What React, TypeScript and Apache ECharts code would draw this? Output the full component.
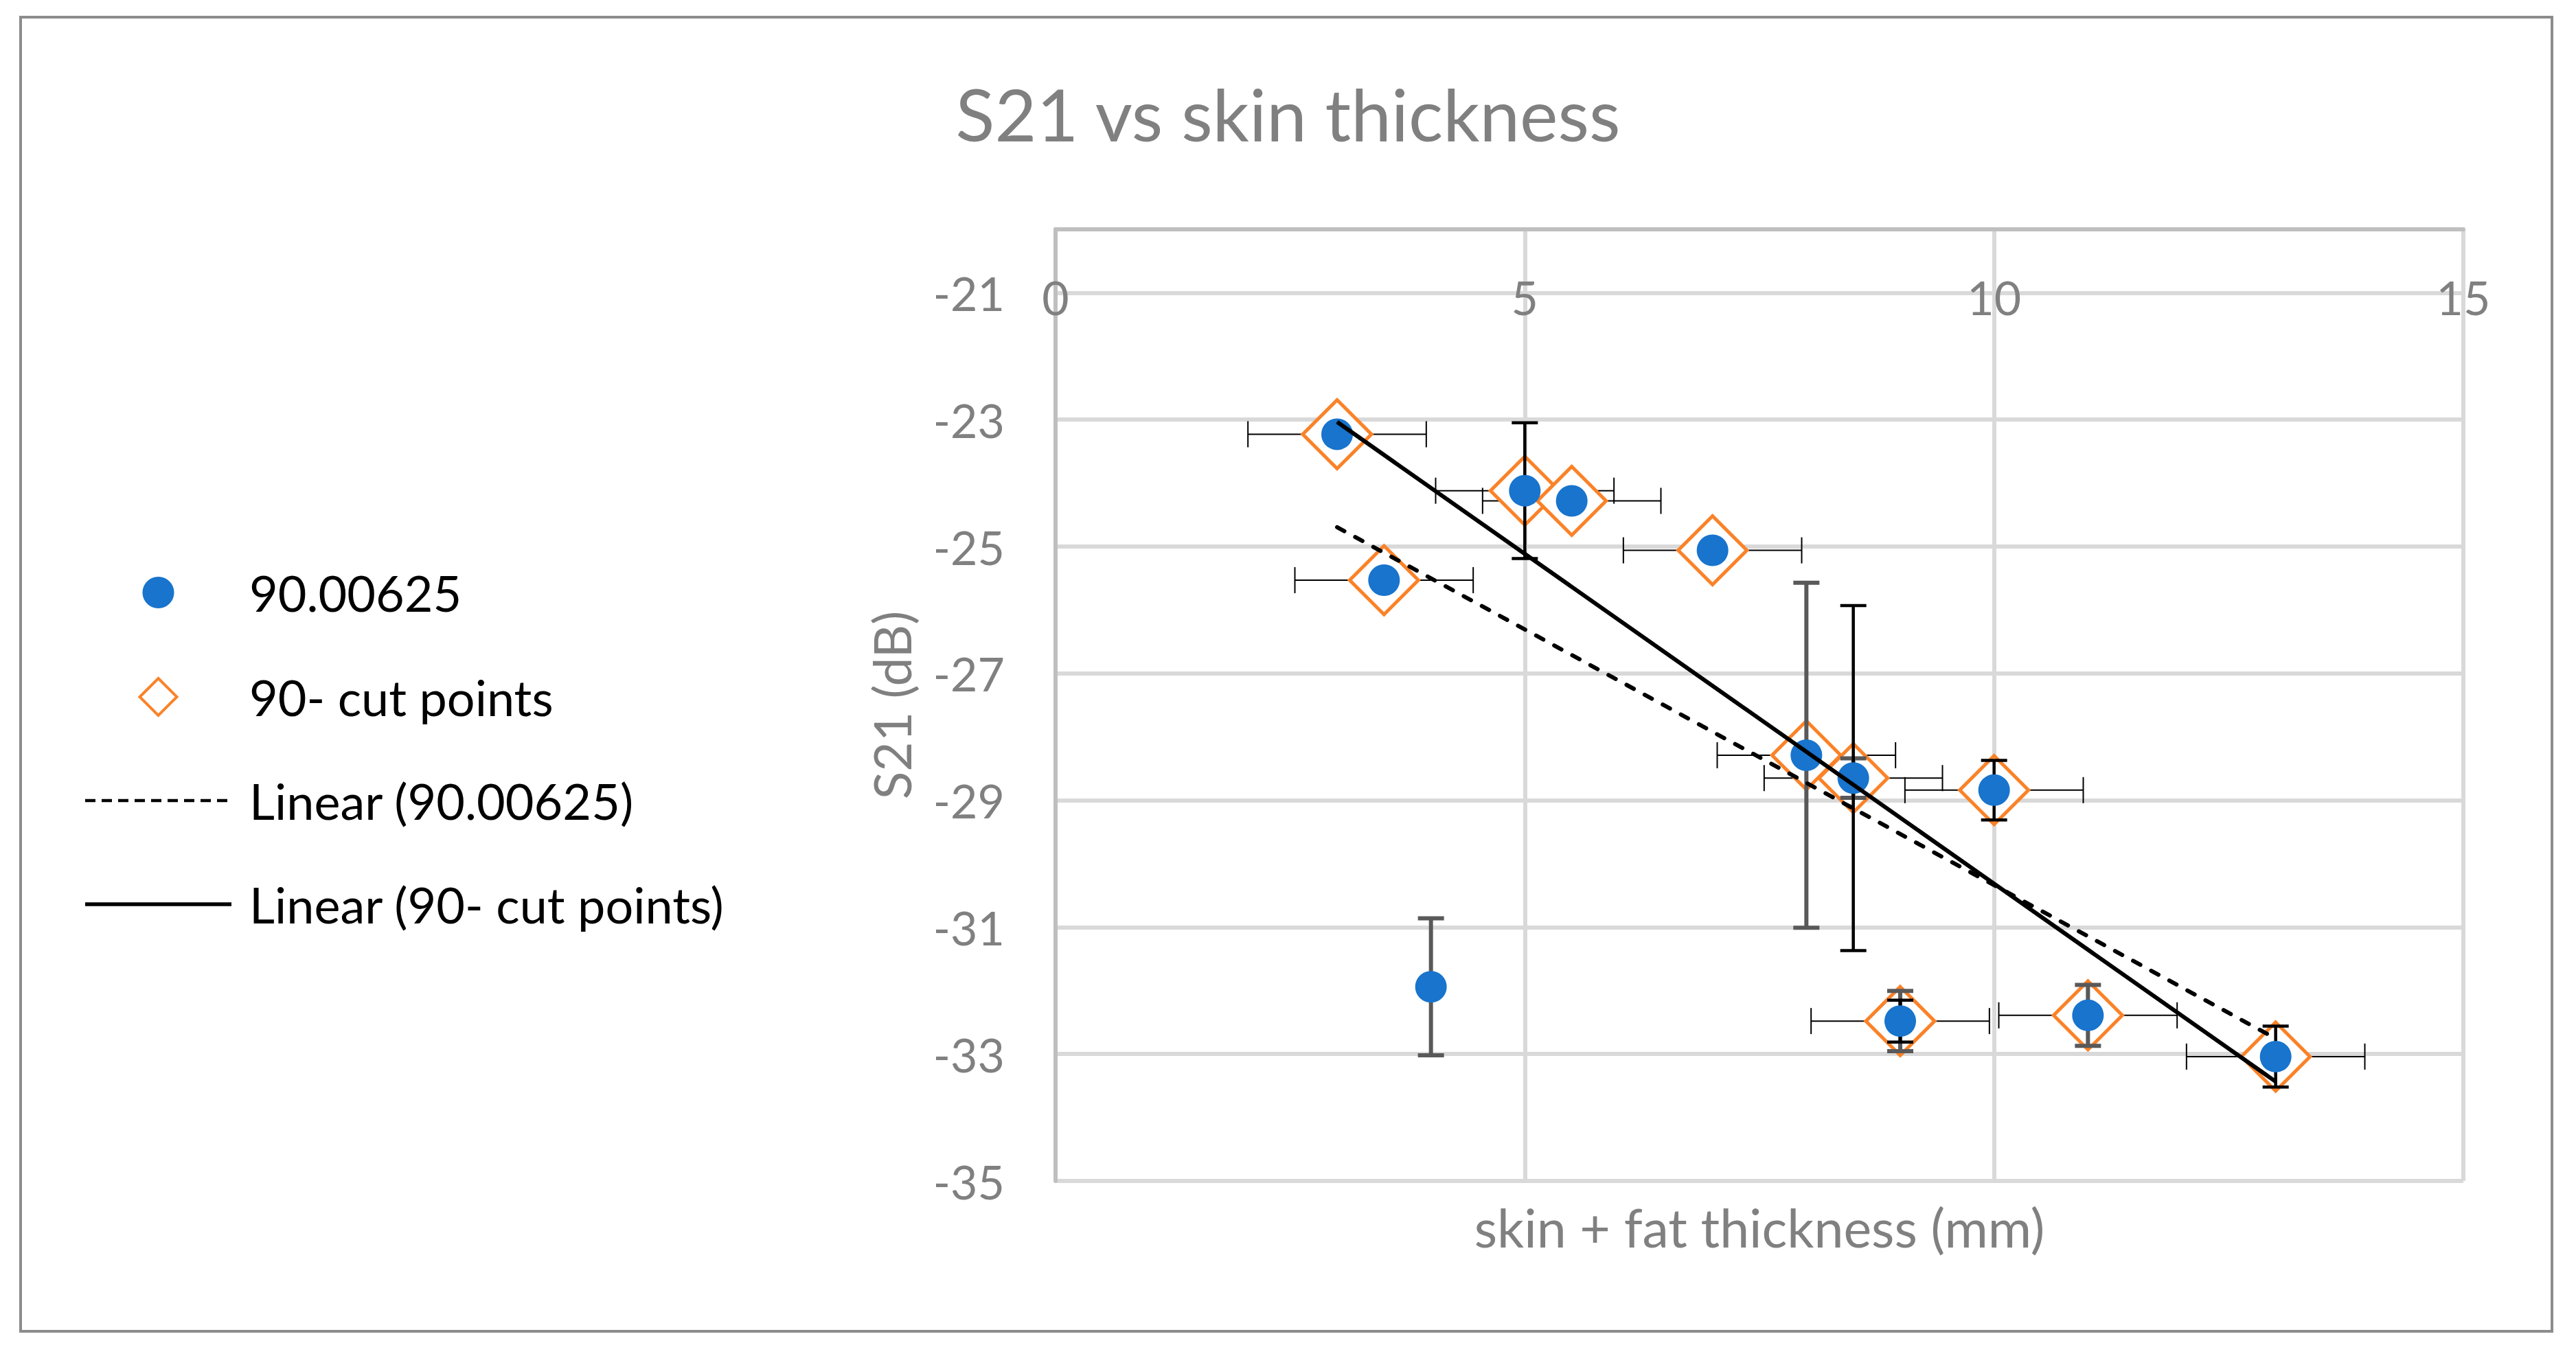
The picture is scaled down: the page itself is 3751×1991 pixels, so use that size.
import React, { useEffect, useRef } from "react";
import * as echarts from "echarts";

// skin + fat thickness (mm) and S21 (dB)
const blueX = [3, 3.5, 4, 5, 5.5, 7, 8, 8.5, 9, 10, 11, 13];
const blueY = [-23.23, -25.53, -31.94, -24.12, -24.28, -25.06, -28.29, -28.65, -32.48, -28.84, -32.39, -33.04];
const blueYErr = [0, 0, 1.08, 0, 0, 0, 2.72, 0.31, 0.475, 0, 0.48, 0];

const cutX = [3, 3.5, 5, 5.5, 7, 8, 8.5, 9, 10, 11, 13];
const cutY = [-23.23, -25.53, -24.12, -24.28, -25.06, -28.29, -28.65, -32.48, -28.84, -32.39, -33.04];
const cutYErr = [0, 0, 1.07, 0, 0, 0, 2.72, 0.33, 0.47, 0, 0.48];
const cutXErr = [0.95, 0.95, 0.95, 0.95, 0.95, 0.95, 0.95, 0.95, 0.95, 0.95, 0.95];

const xTicks = [0, 5, 10, 15];
const yTicks = [-35, -33, -31, -29, -27, -25, -23, -21];

const seriesNames = ["90.00625", "90- cut points", "Linear (90.00625)", "Linear (90- cut points)"];

const BLUE = "#1874CD";
const ORANGE = "#FA8228";
const GREY_TEXT = "#808080";
const FONT = "Lato, sans-serif";

// least squares line over the x range of the series
const linearFit = (xs: number[], ys: number[]) => {
  const n = xs.length;
  const mx = xs.reduce((a, b) => a + b, 0) / n;
  const my = ys.reduce((a, b) => a + b, 0) / n;
  let sxy = 0;
  let sxx = 0;
  xs.forEach((x, i) => {
    sxy += (x - mx) * (ys[i] - my);
    sxx += (x - mx) * (x - mx);
  });
  const slope = sxy / sxx;
  const x0 = Math.min(...xs);
  const x1 = Math.max(...xs);
  return [
    [x0, my + slope * (x0 - mx)],
    [x1, my + slope * (x1 - mx)],
  ];
};

const verticalBars = (color: string, width: number) => (params: any, api: any) => {
  const x = api.value(0);
  const y = api.value(1);
  const e = api.value(2);
  const top = api.coord([x, y + e]);
  const bot = api.coord([x, y - e]);
  const cap = 19;
  const style = { stroke: color, lineWidth: width };
  return {
    type: "group",
    children: [
      { type: "line", shape: { x1: top[0], y1: top[1], x2: bot[0], y2: bot[1] }, style },
      { type: "line", shape: { x1: top[0] - cap, y1: top[1], x2: top[0] + cap, y2: top[1] }, style },
      { type: "line", shape: { x1: bot[0] - cap, y1: bot[1], x2: bot[0] + cap, y2: bot[1] }, style },
    ],
  };
};

const horizontalBars = (params: any, api: any) => {
  const x = api.value(0);
  const y = api.value(1);
  const e = api.value(2);
  const l = api.coord([x - e, y]);
  const r = api.coord([x + e, y]);
  const cap = 19;
  const style = { stroke: "#000", lineWidth: 2 };
  return {
    type: "group",
    children: [
      { type: "line", shape: { x1: l[0], y1: l[1], x2: r[0], y2: r[1] }, style },
      { type: "line", shape: { x1: l[0], y1: l[1] - cap, x2: l[0], y2: l[1] + cap }, style },
      { type: "line", shape: { x1: r[0], y1: r[1] - cap, x2: r[0], y2: r[1] + cap }, style },
    ],
  };
};

// legend drawn by hand, Excel style: a 213px key box then the text
const legendRows = [863, 1015, 1166, 1317];
const legendGraphics = (): any[] => {
  const keyLeft = 124;
  const keyRight = 337;
  const keyMid = (keyLeft + keyRight) / 2;
  const items: any[] = [
    { type: "circle", shape: { cx: keyMid, cy: legendRows[0], r: 23 }, style: { fill: BLUE } },
    {
      type: "polygon",
      shape: {
        points: [
          [keyMid, legendRows[1] - 27],
          [keyMid + 27, legendRows[1]],
          [keyMid, legendRows[1] + 27],
          [keyMid - 27, legendRows[1]],
        ],
      },
      style: { fill: "#fff", stroke: ORANGE, lineWidth: 4 },
    },
    {
      type: "line",
      shape: { x1: keyLeft, y1: legendRows[2], x2: keyRight, y2: legendRows[2] },
      style: { stroke: "#000", lineWidth: 4.5, lineDash: [15, 9] },
    },
    {
      type: "line",
      shape: { x1: keyLeft, y1: legendRows[3], x2: keyRight, y2: legendRows[3] },
      style: { stroke: "#000", lineWidth: 5.5 },
    },
  ];
  seriesNames.forEach((name, i) => {
    items.push({
      type: "text",
      x: 363,
      y: legendRows[i],
      style: {
        text: name,
        fill: "#000",
        fontSize: 72,
        fontFamily: FONT,
        textAlign: "left",
        textVerticalAlign: "middle",
      },
    });
  });
  return items.map((it) => ({ ...it, silent: true }));
};

const App: React.FC = () => {
  const chartRef = useRef<HTMLDivElement>(null);

  useEffect(() => {
    if (!chartRef.current) return;
    const chart = echarts.init(chartRef.current, undefined, { renderer: "svg" });

    const bluePts = blueX.map((x, i) => [x, blueY[i]]);
    const cutPts = cutX.map((x, i) => [x, cutY[i]]);
    const blueVErr = blueX.map((x, i) => [x, blueY[i], blueYErr[i]]).filter((d) => d[2] > 0);
    const cutVErr = cutX.map((x, i) => [x, cutY[i], cutYErr[i]]).filter((d) => d[2] > 0);
    const cutHErr = cutX.map((x, i) => [x, cutY[i], cutXErr[i]]);

    const option: echarts.EChartsOption = {
      animation: false,
      backgroundColor: "#fff",
      title: {
        text: "S21 vs skin thickness",
        left: "center",
        top: 112,
        padding: 0,
        textStyle: { color: GREY_TEXT, fontSize: 105, fontWeight: "normal", fontFamily: FONT },
      },
      grid: { left: 1537, right: 164, top: 334, bottom: 271 },
      xAxis: [
        {
          type: "value",
          min: xTicks[0],
          max: xTicks[xTicks.length - 1],
          interval: 5,
          position: "top",
          axisLine: { onZero: false, lineStyle: { color: "#BFBFBF", width: 6 } },
          axisTick: { show: false },
          axisLabel: {
            inside: true,
            margin: 64,
            color: GREY_TEXT,
            fontSize: 68,
            fontFamily: FONT,
            formatter: (v: number) => (xTicks.includes(v) ? String(v) : ""),
          },
          splitLine: { show: true, lineStyle: { color: "#D9D9D9", width: 6 } },
        },
        {
          type: "value",
          min: xTicks[0],
          max: xTicks[xTicks.length - 1],
          position: "bottom",
          axisLine: { show: false },
          axisTick: { show: false },
          axisLabel: { show: false },
          splitLine: { show: false },
          name: "skin + fat thickness (mm)",
          nameLocation: "middle",
          nameGap: 28,
          nameTextStyle: { color: GREY_TEXT, fontSize: 77, fontFamily: FONT },
        },
      ],
      yAxis: {
        type: "value",
        min: yTicks[0],
        max: -20,
        interval: 1,
        axisLine: { show: true, onZero: false, lineStyle: { color: "#BFBFBF", width: 6 } },
        axisTick: { show: false },
        axisLabel: {
          margin: 74,
          color: GREY_TEXT,
          fontSize: 68,
          fontFamily: FONT,
          formatter: (v: number) => (yTicks.includes(v) ? String(v) : ""),
        },
        // one line per unit; only the labelled (odd) values get a visible colour
        splitLine: { show: true, lineStyle: { color: ["#D9D9D9", "rgba(0,0,0,0)"], width: 6 } },
        name: "S21 (dB)",
        nameLocation: "middle",
        nameGap: 202,
        nameTextStyle: { color: GREY_TEXT, fontSize: 75, fontFamily: FONT },
      },
      graphic: [
        {
          type: "rect",
          shape: { x: 30, y: 25, width: 3686, height: 1914 },
          style: { fill: "none", stroke: "#8C8C8C", lineWidth: 4 },
          silent: true,
        },
        ...legendGraphics(),
      ],
      series: [
        {
          type: "custom",
          name: "x error",
          renderItem: horizontalBars as any,
          data: cutHErr,
          encode: { x: 0, y: 1 },
          z: 1,
          silent: true,
        },
        {
          type: "scatter",
          name: seriesNames[1],
          data: cutPts,
          symbol: "diamond",
          symbolSize: 100,
          itemStyle: { color: "#fff", borderColor: ORANGE, borderWidth: 5, opacity: 1 },
          z: 2,
        },
        {
          type: "custom",
          name: "y error 90.00625",
          renderItem: verticalBars("#595959", 6) as any,
          data: blueVErr,
          encode: { x: 0, y: 1 },
          z: 3,
          silent: true,
        },
        {
          type: "custom",
          name: "y error cut",
          renderItem: verticalBars("#000", 4.5) as any,
          data: cutVErr,
          encode: { x: 0, y: 1 },
          z: 4,
          silent: true,
        },
        {
          type: "scatter",
          name: seriesNames[0],
          data: bluePts,
          symbol: "circle",
          symbolSize: 46,
          itemStyle: { color: BLUE, opacity: 1 },
          z: 5,
        },
        {
          type: "line",
          name: seriesNames[2],
          data: linearFit(blueX, blueY),
          symbol: "none",
          showSymbol: false,
          lineStyle: { color: "#000", width: 6, type: [12, 18], cap: "round" },
          z: 6,
        },
        {
          type: "line",
          name: seriesNames[3],
          data: linearFit(cutX, cutY),
          symbol: "none",
          showSymbol: false,
          lineStyle: { color: "#000", width: 6, type: "solid" },
          z: 6,
        },
      ],
    };

    chart.setOption(option);

    return () => {
      chart.dispose();
    };
  }, []);

  return (
    <div
      ref={chartRef}
      style={{ position: "fixed", left: 0, top: 0, width: 3751, height: 1991 }}
    />
  );
};

export default App;
